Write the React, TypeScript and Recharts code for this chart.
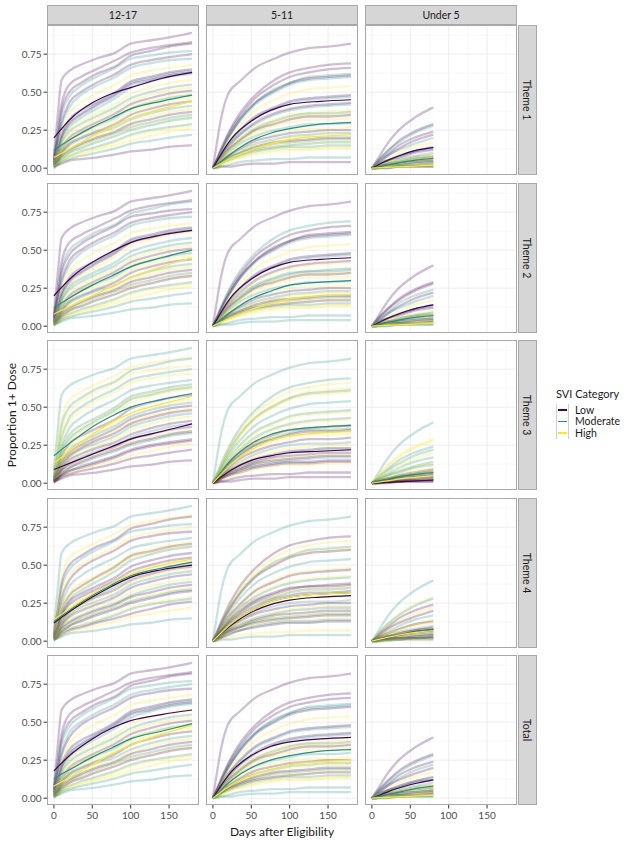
import React from 'react';
import { LineChart, Line, XAxis, YAxis, CartesianGrid } from 'recharts';

// facets
const AGE_GROUPS = ['12-17', '5-11', 'Under 5'];
const THEMES = ['Theme 1', 'Theme 2', 'Theme 3', 'Theme 4', 'Total'];
const SVI_KEYS = ['L', 'M', 'H'];
const SVI_LABELS = ['Low', 'Moderate', 'High'];
const SVI_COLORS: Record<string, string> = { L: '#440154', M: '#21908C', H: '#FDE725' };

const COUNTY_DAYS = [0, 5, 10, 20, 35, 55, 80, 100, 125, 150, 180];
const U5_DAYS = [0, 5, 10, 20, 35, 55, 80];
const FIT_DAYS = [0, 25, 50, 75, 100, 140, 180];
const U5_FIT_DAYS = [0, 20, 40, 60, 80];

// county trajectories, one row per county
const COUNTIES_1217 = [
  [0.08, 0.35, 0.58, 0.64, 0.68, 0.72, 0.76, 0.82, 0.84, 0.86, 0.89],
  [0.06, 0.25, 0.42, 0.55, 0.6, 0.65, 0.71, 0.76, 0.79, 0.81, 0.83],
  [0.05, 0.2, 0.38, 0.5, 0.56, 0.62, 0.67, 0.74, 0.77, 0.8, 0.82],
  [0.05, 0.2, 0.35, 0.47, 0.54, 0.6, 0.66, 0.72, 0.74, 0.76, 0.77],
  [0.04, 0.18, 0.3, 0.43, 0.5, 0.56, 0.62, 0.68, 0.71, 0.73, 0.75],
  [0.04, 0.15, 0.28, 0.4, 0.48, 0.54, 0.6, 0.66, 0.69, 0.71, 0.72],
  [0.04, 0.12, 0.24, 0.36, 0.43, 0.49, 0.55, 0.61, 0.64, 0.66, 0.68],
  [0.03, 0.12, 0.22, 0.32, 0.38, 0.43, 0.5, 0.57, 0.6, 0.63, 0.65],
  [0.03, 0.1, 0.2, 0.3, 0.36, 0.42, 0.49, 0.56, 0.59, 0.62, 0.64],
  [0.03, 0.1, 0.2, 0.29, 0.35, 0.41, 0.48, 0.55, 0.58, 0.61, 0.63],
  [0.03, 0.09, 0.18, 0.27, 0.33, 0.39, 0.46, 0.53, 0.57, 0.6, 0.62],
  [0.03, 0.09, 0.17, 0.26, 0.31, 0.36, 0.42, 0.49, 0.53, 0.56, 0.58],
  [0.02, 0.08, 0.16, 0.24, 0.29, 0.34, 0.4, 0.46, 0.5, 0.53, 0.55],
  [0.02, 0.08, 0.14, 0.22, 0.27, 0.32, 0.38, 0.44, 0.48, 0.51, 0.53],
  [0.02, 0.07, 0.13, 0.2, 0.25, 0.3, 0.36, 0.42, 0.46, 0.49, 0.51],
  [0.02, 0.06, 0.12, 0.19, 0.24, 0.29, 0.34, 0.4, 0.44, 0.47, 0.49],
  [0.02, 0.06, 0.11, 0.18, 0.23, 0.28, 0.33, 0.39, 0.43, 0.46, 0.48],
  [0.02, 0.05, 0.1, 0.17, 0.22, 0.26, 0.31, 0.37, 0.41, 0.44, 0.46],
  [0.02, 0.05, 0.1, 0.16, 0.2, 0.24, 0.29, 0.35, 0.39, 0.42, 0.44],
  [0.01, 0.05, 0.09, 0.15, 0.19, 0.23, 0.27, 0.32, 0.36, 0.39, 0.41],
  [0.01, 0.04, 0.08, 0.13, 0.17, 0.21, 0.25, 0.3, 0.34, 0.37, 0.39],
  [0.01, 0.04, 0.08, 0.12, 0.16, 0.2, 0.24, 0.29, 0.32, 0.35, 0.37],
  [0.01, 0.04, 0.07, 0.11, 0.15, 0.19, 0.23, 0.27, 0.3, 0.33, 0.35],
  [0.01, 0.03, 0.06, 0.1, 0.14, 0.18, 0.22, 0.26, 0.29, 0.32, 0.34],
  [0.01, 0.03, 0.06, 0.1, 0.13, 0.17, 0.21, 0.25, 0.28, 0.31, 0.33],
  [0.01, 0.03, 0.05, 0.08, 0.11, 0.14, 0.18, 0.22, 0.25, 0.27, 0.29],
  [0.01, 0.03, 0.05, 0.08, 0.1, 0.13, 0.17, 0.21, 0.24, 0.26, 0.28],
  [0.01, 0.02, 0.04, 0.07, 0.09, 0.12, 0.15, 0.18, 0.21, 0.24, 0.26],
  [0.01, 0.02, 0.04, 0.06, 0.08, 0.1, 0.13, 0.16, 0.18, 0.2, 0.22],
  [0.0, 0.02, 0.03, 0.05, 0.06, 0.07, 0.09, 0.11, 0.12, 0.14, 0.15],
];

const COUNTIES_511 = [
  [0, 0.16, 0.31, 0.49, 0.57, 0.66, 0.72, 0.76, 0.79, 0.8, 0.82],
  [0, 0.05, 0.11, 0.22, 0.34, 0.46, 0.55, 0.6, 0.63, 0.65, 0.66],
  [0, 0.06, 0.12, 0.23, 0.36, 0.48, 0.58, 0.63, 0.66, 0.68, 0.69],
  [0, 0.05, 0.11, 0.2, 0.32, 0.43, 0.52, 0.56, 0.6, 0.61, 0.62],
  [0, 0.05, 0.1, 0.2, 0.32, 0.43, 0.51, 0.56, 0.59, 0.6, 0.61],
  [0, 0.05, 0.1, 0.2, 0.31, 0.42, 0.5, 0.55, 0.58, 0.59, 0.6],
  [0, 0.04, 0.09, 0.18, 0.28, 0.38, 0.45, 0.49, 0.52, 0.53, 0.54],
  [0, 0.04, 0.08, 0.16, 0.25, 0.34, 0.4, 0.44, 0.46, 0.47, 0.48],
  [0, 0.04, 0.08, 0.16, 0.24, 0.33, 0.39, 0.43, 0.45, 0.46, 0.47],
  [0, 0.03, 0.07, 0.14, 0.22, 0.3, 0.36, 0.39, 0.41, 0.42, 0.43],
  [0, 0.03, 0.07, 0.14, 0.22, 0.29, 0.35, 0.38, 0.4, 0.41, 0.42],
  [0, 0.03, 0.06, 0.13, 0.2, 0.27, 0.32, 0.35, 0.36, 0.37, 0.38],
  [0, 0.03, 0.06, 0.12, 0.19, 0.26, 0.31, 0.34, 0.36, 0.36, 0.37],
  [0, 0.03, 0.06, 0.12, 0.19, 0.25, 0.3, 0.33, 0.35, 0.35, 0.36],
  [0, 0.03, 0.06, 0.12, 0.18, 0.25, 0.29, 0.32, 0.34, 0.34, 0.35],
  [0, 0.03, 0.06, 0.11, 0.17, 0.23, 0.28, 0.3, 0.32, 0.32, 0.33],
  [0, 0.02, 0.05, 0.1, 0.16, 0.21, 0.25, 0.27, 0.29, 0.29, 0.3],
  [0, 0.02, 0.05, 0.09, 0.14, 0.19, 0.23, 0.25, 0.26, 0.26, 0.27],
  [0, 0.02, 0.04, 0.08, 0.13, 0.18, 0.21, 0.23, 0.24, 0.25, 0.25],
  [0, 0.02, 0.04, 0.08, 0.12, 0.16, 0.19, 0.21, 0.22, 0.23, 0.23],
  [0, 0.02, 0.04, 0.07, 0.11, 0.15, 0.18, 0.2, 0.21, 0.22, 0.22],
  [0, 0.02, 0.03, 0.07, 0.1, 0.14, 0.17, 0.18, 0.19, 0.2, 0.2],
  [0, 0.02, 0.03, 0.06, 0.1, 0.13, 0.16, 0.17, 0.18, 0.19, 0.19],
  [0, 0.01, 0.03, 0.06, 0.09, 0.13, 0.15, 0.16, 0.17, 0.18, 0.18],
  [0, 0.01, 0.03, 0.06, 0.09, 0.12, 0.14, 0.15, 0.16, 0.17, 0.17],
  [0, 0.01, 0.03, 0.05, 0.08, 0.11, 0.13, 0.14, 0.14, 0.15, 0.15],
  [0, 0.01, 0.02, 0.05, 0.07, 0.1, 0.12, 0.13, 0.13, 0.14, 0.14],
  [0, 0.01, 0.02, 0.04, 0.07, 0.09, 0.11, 0.12, 0.12, 0.13, 0.13],
  [0, 0.01, 0.01, 0.02, 0.04, 0.05, 0.06, 0.06, 0.07, 0.07, 0.07],
  [0, 0, 0.01, 0.01, 0.02, 0.03, 0.03, 0.04, 0.04, 0.04, 0.04],
];

const COUNTIES_U5 = [
  [0, 0.04, 0.08, 0.16, 0.25, 0.33, 0.4],
  [0, 0.03, 0.06, 0.11, 0.18, 0.24, 0.29],
  [0, 0.02, 0.05, 0.09, 0.15, 0.2, 0.24],
  [0, 0.03, 0.06, 0.11, 0.17, 0.23, 0.28],
  [0, 0.02, 0.04, 0.08, 0.13, 0.18, 0.22],
  [0, 0.02, 0.04, 0.08, 0.12, 0.16, 0.2],
  [0, 0.02, 0.03, 0.06, 0.1, 0.14, 0.17],
  [0, 0.01, 0.03, 0.05, 0.08, 0.11, 0.14],
  [0, 0.01, 0.03, 0.05, 0.08, 0.11, 0.13],
  [0, 0.01, 0.02, 0.05, 0.07, 0.1, 0.12],
  [0, 0.01, 0.02, 0.04, 0.06, 0.08, 0.1],
  [0, 0.01, 0.02, 0.03, 0.05, 0.07, 0.09],
  [0, 0.01, 0.02, 0.03, 0.05, 0.07, 0.08],
  [0, 0.01, 0.02, 0.03, 0.05, 0.06, 0.08],
  [0, 0.01, 0.01, 0.03, 0.04, 0.06, 0.07],
  [0, 0.01, 0.01, 0.03, 0.04, 0.06, 0.07],
  [0, 0.01, 0.01, 0.02, 0.04, 0.05, 0.06],
  [0, 0.01, 0.01, 0.02, 0.04, 0.05, 0.06],
  [0, 0, 0.01, 0.02, 0.03, 0.04, 0.05],
  [0, 0, 0.01, 0.02, 0.03, 0.04, 0.05],
  [0, 0, 0.01, 0.02, 0.02, 0.03, 0.04],
  [0, 0, 0.01, 0.02, 0.02, 0.03, 0.04],
  [0, 0, 0.01, 0.01, 0.02, 0.02, 0.03],
  [0, 0, 0.01, 0.01, 0.02, 0.02, 0.03],
  [0, 0, 0.01, 0.01, 0.02, 0.02, 0.03],
  [0, 0, 0, 0.01, 0.01, 0.02, 0.02],
  [0, 0, 0, 0.01, 0.01, 0.02, 0.02],
  [0, 0, 0, 0.01, 0.01, 0.02, 0.02],
  [0, 0, 0, 0, 0.01, 0.01, 0.01],
  [0, 0, 0, 0, 0.01, 0.01, 0.01],
];

// SVI category of each county, per theme (L/M/H)
const CATEGORY_BY_THEME = [
  'LLLMLMHLMLMHMHLHMHLMHLMHMMHHML',
  'LLMLLMHLMLHMMHLHMHLMHLMHLMHHMM',
  'MHMHMHMMHMHLHMLHLMHLMLHLMLLHLL',
  'MHLMHLMHLHMLLHMLHMLHMLHMLHMLHM',
  'LLLMMLHLMLMHMHLHMHLMHLMHLMHHMM',
];

// fitted curves, one row per theme (Theme 1..4, Total)
const FIT_1217_LOW = [
  [0.2, 0.34, 0.43, 0.49, 0.53, 0.59, 0.63],
  [0.2, 0.33, 0.42, 0.49, 0.55, 0.6, 0.63],
  [0.09, 0.14, 0.19, 0.24, 0.29, 0.34, 0.39],
  [0.12, 0.21, 0.29, 0.36, 0.42, 0.47, 0.5],
  [0.18, 0.3, 0.39, 0.46, 0.51, 0.55, 0.58],
];
const FIT_1217_MOD = [
  [0.12, 0.2, 0.27, 0.33, 0.39, 0.44, 0.48],
  [0.12, 0.2, 0.27, 0.33, 0.39, 0.45, 0.5],
  [0.18, 0.28, 0.37, 0.44, 0.5, 0.55, 0.59],
  [0.13, 0.22, 0.3, 0.37, 0.43, 0.48, 0.52],
  [0.13, 0.2, 0.27, 0.33, 0.39, 0.44, 0.49],
];
const FIT_1217_HIGH = [
  [0.07, 0.14, 0.21, 0.27, 0.33, 0.39, 0.44],
  [0.08, 0.14, 0.2, 0.26, 0.32, 0.39, 0.45],
  [0.13, 0.23, 0.32, 0.4, 0.46, 0.52, 0.57],
  [0.14, 0.23, 0.31, 0.38, 0.44, 0.5, 0.54],
  [0.08, 0.15, 0.22, 0.29, 0.35, 0.42, 0.48],
];
const FIT_511_LOW = [
  [0, 0.2, 0.31, 0.38, 0.42, 0.44, 0.45],
  [0, 0.2, 0.31, 0.38, 0.42, 0.44, 0.45],
  [0, 0.09, 0.15, 0.18, 0.2, 0.21, 0.22],
  [0, 0.11, 0.19, 0.24, 0.27, 0.29, 0.3],
  [0, 0.18, 0.28, 0.34, 0.37, 0.39, 0.4],
];
const FIT_511_MOD = [
  [0, 0.1, 0.18, 0.23, 0.26, 0.29, 0.3],
  [0, 0.1, 0.18, 0.23, 0.27, 0.29, 0.3],
  [0, 0.16, 0.26, 0.32, 0.35, 0.37, 0.38],
  [0, 0.12, 0.2, 0.26, 0.29, 0.31, 0.32],
  [0, 0.12, 0.2, 0.25, 0.28, 0.31, 0.32],
];
const FIT_511_HIGH = [
  [0, 0.07, 0.12, 0.16, 0.19, 0.21, 0.22],
  [0, 0.06, 0.11, 0.15, 0.18, 0.2, 0.21],
  [0, 0.13, 0.22, 0.28, 0.31, 0.33, 0.34],
  [0, 0.12, 0.2, 0.26, 0.29, 0.31, 0.32],
  [0, 0.09, 0.15, 0.19, 0.22, 0.24, 0.25],
];
const FIT_U5_LOW = [
  [0, 0.05, 0.09, 0.12, 0.135],
  [0, 0.05, 0.09, 0.12, 0.14],
  [0, 0.005, 0.01, 0.015, 0.02],
  [0, 0.025, 0.045, 0.065, 0.075],
  [0, 0.04, 0.075, 0.1, 0.12],
];
const FIT_U5_MOD = [
  [0, 0.02, 0.04, 0.055, 0.065],
  [0, 0.025, 0.045, 0.06, 0.07],
  [0, 0.025, 0.045, 0.06, 0.07],
  [0, 0.025, 0.045, 0.065, 0.08],
  [0, 0.025, 0.045, 0.065, 0.08],
];
const FIT_U5_HIGH = [
  [0, 0.005, 0.01, 0.015, 0.02],
  [0, 0.005, 0.01, 0.015, 0.02],
  [0, 0.015, 0.03, 0.04, 0.05],
  [0, 0.025, 0.045, 0.06, 0.07],
  [0, 0.005, 0.01, 0.015, 0.02],
];

const Y_TICKS = [0, 0.25, 0.5, 0.75];
const Y_MINOR = [0.125, 0.375, 0.625, 0.875];
const X_TICKS = [0, 50, 100, 150];
const X_MINOR = [25, 75, 125, 175];

const COL_X = [47, 206, 365];
const ROW_Y = [25, 182.5, 340, 497.5, 655];
const PANEL_W = 152;
const PANEL_H = 150;
const Y_AXIS_W = 47;
const X_AXIS_H = 24;
const FONT = 'Lato, "Open Sans", sans-serif';

const AGE_SOURCES = [
  { days: COUNTY_DAYS, counties: COUNTIES_1217, fitDays: FIT_DAYS, fits: [FIT_1217_LOW, FIT_1217_MOD, FIT_1217_HIGH] },
  { days: COUNTY_DAYS, counties: COUNTIES_511, fitDays: FIT_DAYS, fits: [FIT_511_LOW, FIT_511_MOD, FIT_511_HIGH] },
  { days: U5_DAYS, counties: COUNTIES_U5, fitDays: U5_FIT_DAYS, fits: [FIT_U5_LOW, FIT_U5_MOD, FIT_U5_HIGH] },
];

function buildRows(col: number, row: number) {
  const src = AGE_SOURCES[col];
  const days = Array.from(new Set([...src.days, ...src.fitDays])).sort((a, b) => a - b);
  return days.map((d) => {
    const r: Record<string, number | null> = { day: d };
    const ci = src.days.indexOf(d);
    src.counties.forEach((c, k) => {
      r['c' + k] = ci >= 0 ? c[ci] : null;
    });
    const fi = src.fitDays.indexOf(d);
    SVI_KEYS.forEach((key, j) => {
      r['f' + key] = fi >= 0 ? src.fits[j][row][fi] : null;
    });
    return r;
  });
}

const tickStyle = { fill: '#4D4D4D', fontSize: 10, fontFamily: FONT };

function Panel({ col, row }: { col: number; row: number }) {
  const data = buildRows(col, row);
  const cats = CATEGORY_BY_THEME[row];
  const showY = col === 0;
  const showX = row === THEMES.length - 1;
  const w = PANEL_W + (showY ? Y_AXIS_W : 0);
  const h = PANEL_H + (showX ? X_AXIS_H : 0);
  const nCounties = AGE_SOURCES[col].counties.length;
  return (
    <div style={{ position: 'absolute', left: COL_X[col] - (showY ? Y_AXIS_W : 0), top: ROW_Y[row] }}>
      <LineChart width={w} height={h} data={data} margin={{ top: 0, right: 0, bottom: 0, left: 0 }}>
        <CartesianGrid stroke="#f3f3f3" strokeWidth={0.6} horizontalValues={Y_MINOR} verticalValues={X_MINOR} />
        <CartesianGrid stroke="#ebebeb" strokeWidth={0.9} horizontalValues={Y_TICKS} verticalValues={X_TICKS} />
        <XAxis
          type="number"
          dataKey="day"
          domain={[-9, 189]}
          ticks={X_TICKS}
          allowDataOverflow
          hide={!showX}
          height={X_AXIS_H}
          axisLine={false}
          tickSize={3.5}
          tickMargin={3}
          tick={tickStyle}
          tickLine={{ stroke: '#333' }}
        />
        <YAxis
          type="number"
          domain={[-0.045, 0.942]}
          ticks={Y_TICKS}
          allowDataOverflow
          hide={!showY}
          width={Y_AXIS_W}
          axisLine={false}
          tickSize={3.5}
          tickMargin={2}
          tick={tickStyle}
          tickLine={{ stroke: '#333' }}
          tickFormatter={(v: number) => v.toFixed(2)}
        />
        {Array.from({ length: nCounties }, (_, k) => (
          <Line
            key={'c' + k}
            type="monotone"
            dataKey={'c' + k}
            stroke={SVI_COLORS[cats[k]]}
            strokeOpacity={0.25}
            strokeWidth={2.3}
            dot={false}
            activeDot={false}
            connectNulls
            isAnimationActive={false}
          />
        ))}
        {SVI_KEYS.map((key) => (
          <Line
            key={'f' + key}
            type="monotone"
            dataKey={'f' + key}
            stroke={SVI_COLORS[key]}
            strokeWidth={1.2}
            dot={false}
            activeDot={false}
            connectNulls
            isAnimationActive={false}
          />
        ))}
      </LineChart>
      <div
        style={{
          position: 'absolute',
          left: showY ? Y_AXIS_W : 0,
          top: 0,
          width: PANEL_W,
          height: PANEL_H,
          border: '1px solid #a8a8a8',
          boxSizing: 'border-box',
          pointerEvents: 'none',
        }}
      />
    </div>
  );
}

const stripStyle: React.CSSProperties = {
  position: 'absolute',
  background: '#d6d6d6',
  border: '1px solid #a8a8a8',
  boxSizing: 'border-box',
  display: 'flex',
  alignItems: 'center',
  justifyContent: 'center',
  color: '#1a1a1a',
  fontSize: 10.5,
  fontFamily: FONT,
};

export default function App() {
  return (
    <div style={{ position: 'absolute', left: 0, top: 0, width: 624, height: 841, background: '#fff', fontFamily: FONT }}>
      {AGE_GROUPS.map((g, c) => (
        <div key={g} style={{ ...stripStyle, left: COL_X[c], top: 5, width: PANEL_W, height: 20 }}>
          {g}
        </div>
      ))}
      {THEMES.map((t, r) => (
        <div key={t} style={{ ...stripStyle, left: 518, top: ROW_Y[r], width: 19, height: PANEL_H }}>
          <span style={{ transform: 'rotate(90deg)', whiteSpace: 'nowrap' }}>{t}</span>
        </div>
      ))}
      {THEMES.map((t, r) => AGE_GROUPS.map((g, c) => <Panel key={t + g} col={c} row={r} />))}
      <div
        style={{
          position: 'absolute',
          left: 11,
          top: (ROW_Y[0] + ROW_Y[4] + PANEL_H) / 2,
          transform: 'translate(-50%, -50%) rotate(-90deg)',
          whiteSpace: 'nowrap',
          fontSize: 12,
          color: '#1a1a1a',
        }}
      >
        Proportion 1+ Dose
      </div>
      <div
        style={{
          position: 'absolute',
          left: (COL_X[0] + COL_X[2] + PANEL_W) / 2,
          top: 831,
          transform: 'translate(-50%, -50%)',
          whiteSpace: 'nowrap',
          fontSize: 12,
          color: '#1a1a1a',
        }}
      >
        Days after Eligibility
      </div>
      <div style={{ position: 'absolute', left: 556, top: 387, fontSize: 11, color: '#1a1a1a', whiteSpace: 'nowrap' }}>
        SVI Category
      </div>
      {SVI_KEYS.map((key, i) => (
        <div key={key} style={{ position: 'absolute', left: 556, top: 404 + i * 11.5, height: 11.5, display: 'flex', alignItems: 'center' }}>
          <div
            style={{
              width: 13,
              height: 11.5,
              borderLeft: '1px solid #d0d0d0',
              borderRight: '1px solid #d0d0d0',
              boxSizing: 'border-box',
              display: 'flex',
              alignItems: 'center',
              justifyContent: 'center',
            }}
          >
            <div style={{ width: 9, height: 1.5, background: SVI_COLORS[key] }} />
          </div>
          <span style={{ marginLeft: 6, fontSize: 10.5, color: '#1a1a1a' }}>{SVI_LABELS[i]}</span>
        </div>
      ))}
    </div>
  );
}
